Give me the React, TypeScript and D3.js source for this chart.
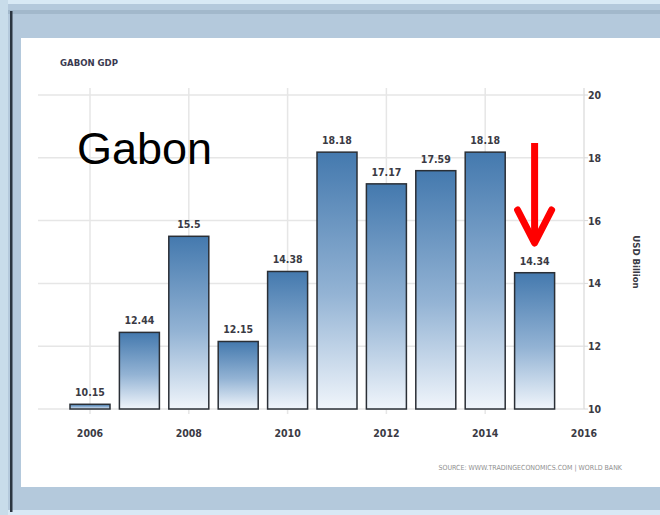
import React, { useEffect, useRef } from 'react';
import * as d3 from 'd3';

const years = [2006, 2007, 2008, 2009, 2010, 2011, 2012, 2013, 2014, 2015];
const gdp = [10.15, 12.44, 15.5, 12.15, 14.38, 18.18, 17.17, 17.59, 18.18, 14.34];
const xTicks = [2006, 2008, 2010, 2012, 2014, 2016];
const yTicks = [10, 12, 14, 16, 18, 20];

const narrow = '"DejaVu Sans", sans-serif';

const App: React.FC = () => {
  const ref = useRef<SVGSVGElement | null>(null);

  useEffect(() => {
    if (!ref.current) return;
    const svg = d3.select(ref.current);
    svg.selectAll('*').remove();

    const width = 660;
    const height = 515;

    // marco de la ventana
    svg.append('rect').attr('width', width).attr('height', height).attr('fill', '#b4c9dc');
    svg.append('rect').attr('width', width).attr('height', 4).attr('fill', '#d8e9f5');
    svg.append('rect').attr('y', 10).attr('width', width).attr('height', 4).attr('fill', '#a2b8cb');
    svg.append('rect').attr('y', 510).attr('width', width).attr('height', 5).attr('fill', '#d8e9f5');
    svg.append('rect').attr('x', 0).attr('y', 0).attr('width', 8).attr('height', height).attr('fill', '#c8dcea');
    svg.append('rect').attr('x', 10).attr('y', 11).attr('width', 2.5).attr('height', 501).attr('fill', '#2b3540');
    svg.append('rect').attr('x', 21).attr('y', 38).attr('width', width - 21).attr('height', 449).attr('fill', '#ffffff');

    const x = d3.scaleLinear().domain([2006, 2016]).range([90, 584]);
    const y = d3.scaleLinear().domain([10, 20]).range([409, 95]);
    const barW = 40;

    const defs = svg.append('defs');
    const grad = defs.append('linearGradient').attr('id', 'barGrad')
      .attr('x1', 0).attr('y1', 0).attr('x2', 0).attr('y2', 1);
    grad.append('stop').attr('offset', '0%').attr('stop-color', '#4479ae');
    grad.append('stop').attr('offset', '55%').attr('stop-color', '#93b3d4');
    grad.append('stop').attr('offset', '100%').attr('stop-color', '#f0f5fb');

    // rejilla
    const grid = svg.append('g');
    grid.selectAll('.hg').data(yTicks).enter().append('line')
      .attr('x1', 38).attr('x2', x(2016))
      .attr('y1', (d) => y(d)).attr('y2', (d) => y(d))
      .attr('stroke', '#e6e6e6').attr('stroke-width', 1.5);
    grid.selectAll('.vg').data(xTicks.slice(0, -1)).enter().append('line')
      .attr('x1', (d) => x(d)).attr('x2', (d) => x(d))
      .attr('y1', 88).attr('y2', y(10) + 5)
      .attr('stroke', '#e6e6e6').attr('stroke-width', 1.5);
    grid.append('line').attr('x1', x(2016)).attr('x2', x(2016))
      .attr('y1', 88).attr('y2', y(10))
      .attr('stroke', '#e0e0e0').attr('stroke-width', 1.5);
    grid.selectAll('.yt').data(yTicks).enter().append('line')
      .attr('x1', x(2016)).attr('x2', x(2016) + 4)
      .attr('y1', (d) => y(d)).attr('y2', (d) => y(d))
      .attr('stroke', '#d8d8d8');

    const small = (sel: any, size: number) =>
      sel.attr('font-family', narrow).attr('font-weight', 'bold')
        .attr('font-size', size).attr('fill', '#3a3a44')
        .style('font-stretch', 'condensed');

    // barras
    svg.selectAll('.bar').data(gdp).enter().append('rect')
      .attr('x', (_, i) => x(years[i]) - barW / 2)
      .attr('y', (d) => y(d))
      .attr('width', barW)
      .attr('height', (d) => y(10) - y(d))
      .attr('fill', 'url(#barGrad)')
      .attr('stroke', '#2a2f36').attr('stroke-width', 1.5);

    small(svg.selectAll('.lbl').data(gdp).enter().append('text')
      .attr('x', (_, i) => x(years[i]))
      .attr('y', (d) => y(d) - 8)
      .attr('text-anchor', 'middle'), 10.5)
      .text((d: number) => String(d));

    // ejes
    small(svg.selectAll('.xl').data(xTicks).enter().append('text')
      .attr('x', (d) => x(d)).attr('y', 437)
      .attr('text-anchor', 'middle'), 10.5)
      .text((d: number) => String(d));
    small(svg.selectAll('.yl').data(yTicks).enter().append('text')
      .attr('x', x(2016) + 4).attr('y', (d) => y(d) + 4), 10.5)
      .text((d: number) => String(d));

    small(svg.append('text')
      .attr('transform', 'translate(633,262) rotate(90)')
      .attr('text-anchor', 'middle'), 9.5)
      .text('USD Billion');

    small(svg.append('text')
      .attr('x', 60).attr('y', 66), 9.5)
      .attr('fill', '#3a3a50')
      .text('GABON GDP');

    svg.append('text')
      .attr('x', 622).attr('y', 470)
      .attr('text-anchor', 'end')
      .attr('font-family', narrow)
      .style('font-stretch', 'condensed')
      .attr('font-size', 7).attr('fill', '#909090')
      .text('SOURCE: WWW.TRADINGECONOMICS.COM | WORLD BANK');

    svg.append('text')
      .attr('x', 77).attr('y', 164)
      .attr('font-family', '"Liberation Sans", Arial, sans-serif')
      .attr('font-size', 45).attr('fill', '#000')
      .text('Gabon');

    // flecha roja sobre 2015
    const ax = x(2015);
    const arrow = svg.append('g').attr('stroke', '#ff0000').attr('stroke-width', 7)
      .attr('fill', 'none').attr('stroke-linecap', 'round').attr('stroke-linejoin', 'round');
    arrow.append('line').attr('x1', ax).attr('x2', ax).attr('y1', 143).attr('y2', 240)
      .attr('stroke-linecap', 'butt');
    arrow.append('path')
      .attr('d', `M${ax - 17},210 L${ax},243 L${ax + 17},210`);
  }, []);

  return (
    <div style={{ position: 'fixed', left: 0, top: 0 }}>
      <svg ref={ref} width={660} height={515} style={{ display: 'block' }} />
    </div>
  );
};

export default App;
